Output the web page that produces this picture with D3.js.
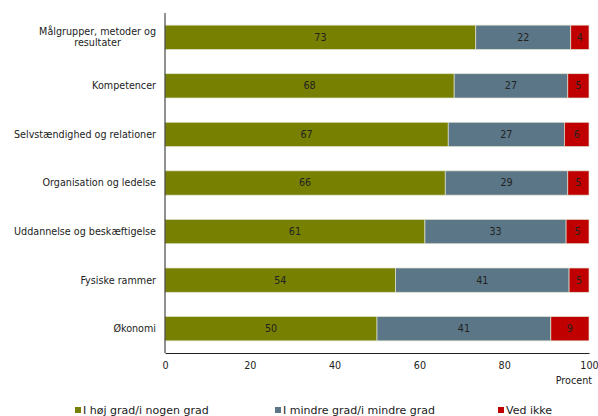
<!DOCTYPE html>
<html>
<head>
<meta charset="utf-8">
<script src="https://cdn.jsdelivr.net/npm/d3@7"></script>
<style>
  body { margin: 0; background: #fff; }
  svg { font-family: "DejaVu Sans", Verdana, sans-serif; font-size: 9.6px; }
</style>
</head>
<body>
<svg width="598" height="416"></svg>
<script>
var categories = [
  ["Målgrupper, metoder og", "resultater"],
  ["Kompetencer"],
  ["Selvstændighed og relationer"],
  ["Organisation og ledelse"],
  ["Uddannelse og beskæftigelse"],
  ["Fysiske rammer"],
  ["Økonomi"]
];
var seriesNames = ["I høj grad/i nogen grad", "I mindre grad/i mindre grad", "Ved ikke"];
var hoej = [73.3, 68.2, 66.8, 66.1, 61.3, 54.4, 50.0];
var mindre = [22.4, 26.8, 27.4, 28.9, 33.3, 40.9, 41.0];
var vedIkke = [4.3, 5.0, 5.8, 5.0, 5.4, 4.7, 9.0];
var xTicks = [0, 20, 40, 60, 80, 100];
var colors = ["#778000", "#5b7686", "#c00000"];

var svg = d3.select("svg"),
    margin = {top: 13, right: 9, bottom: 63, left: 165},
    width = +svg.attr("width") - margin.left - margin.right,
    height = +svg.attr("height") - margin.top - margin.bottom;

var rows = categories.map(function(c, i) {
  return {i: i, name: c, v: [hoej[i], mindre[i], vedIkke[i]]};
});

var x = d3.scaleLinear().domain([0, 100]).range([0, width]);
var y = d3.scaleBand().domain(d3.range(categories.length)).range([0, height]).paddingInner(0.5).paddingOuter(0.25);

var g = svg.append("g").attr("transform", "translate(" + margin.left + "," + margin.top + ")");

var stack = d3.stack().keys([0, 1, 2]).value(function(d, k) { return d.v[k]; });
var layers = stack(rows);

var layer = g.selectAll(".layer").data(layers).enter().append("g")
    .attr("fill", function(d, k) { return colors[k]; });

layer.selectAll("rect").data(function(d) { return d; }).enter().append("rect")
    .attr("x", function(d) { return x(d[0]); })
    .attr("y", function(d) { return y(d.data.i); })
    .attr("width", function(d) { return x(d[1]) - x(d[0]); })
    .attr("height", y.bandwidth())
    .attr("stroke", "#dfe3d0")
    .attr("stroke-width", 0.7);

layer.selectAll("text").data(function(d) { return d; }).enter().append("text")
    .attr("x", function(d) { return (x(d[0]) + x(d[1])) / 2; })
    .attr("y", function(d) { return y(d.data.i) + y.bandwidth() / 2; })
    .attr("dy", "0.35em")
    .attr("text-anchor", "middle")
    .attr("fill", "#222")
    .text(function(d) { return Math.round(d[1] - d[0]); });

// category labels (multi-line ones centred as a block, block right-aligned)
var labels = g.selectAll(".cat").data(rows).enter().append("text")
    .attr("fill", "#222")
    .attr("transform", function(d) { return "translate(-9," + (y(d.i) + y.bandwidth() / 2) + ")"; });
labels.each(function(d) {
  var t = d3.select(this), n = d.name.length;
  if (n === 1) {
    t.attr("text-anchor", "end").attr("dy", "0.35em").text(d.name[0]);
    return;
  }
  var spans = d.name.map(function(line, j) {
    return t.append("tspan")
      .attr("y", (j - (n - 1) / 2) * 11.5)
      .attr("dy", "0.35em")
      .text(line);
  });
  var w = d3.max(spans, function(s) { return s.node().getComputedTextLength(); });
  t.attr("text-anchor", "middle");
  spans.forEach(function(s) { s.attr("x", -w / 2); });
});

// axes
g.append("line").attr("x1", 0).attr("x2", 0).attr("y1", 0).attr("y2", height)
    .attr("stroke", "#222").attr("stroke-width", 1);
var xAxis = d3.axisBottom(x).tickValues(xTicks).tickSize(0).tickPadding(9);
var ax = g.append("g").attr("transform", "translate(0," + height + ")").call(xAxis);
ax.select(".domain").attr("stroke", "#222");
ax.selectAll("text").attr("fill", "#222").style("font-family", "DejaVu Sans, Verdana, sans-serif").style("font-size", "9.6px");

g.append("text")
    .attr("x", width + 3).attr("y", height + 28)
    .attr("dy", "0.35em")
    .attr("text-anchor", "end")
    .attr("fill", "#222")
    .text("Procent");

// legend
var legendX = [75, 275, 498];
var legend = svg.append("g").selectAll("g").data(seriesNames).enter().append("g")
    .attr("transform", function(d, i) { return "translate(" + legendX[i] + ",410)"; });
legend.append("rect").attr("x", 0).attr("y", -3).attr("width", 6).attr("height", 6)
    .attr("fill", function(d, i) { return colors[i]; });
legend.append("text").attr("x", 8).attr("dy", "0.35em").attr("fill", "#222")
    .style("font-size", "11px")
    .text(function(d) { return d; });
</script>
</body>
</html>
